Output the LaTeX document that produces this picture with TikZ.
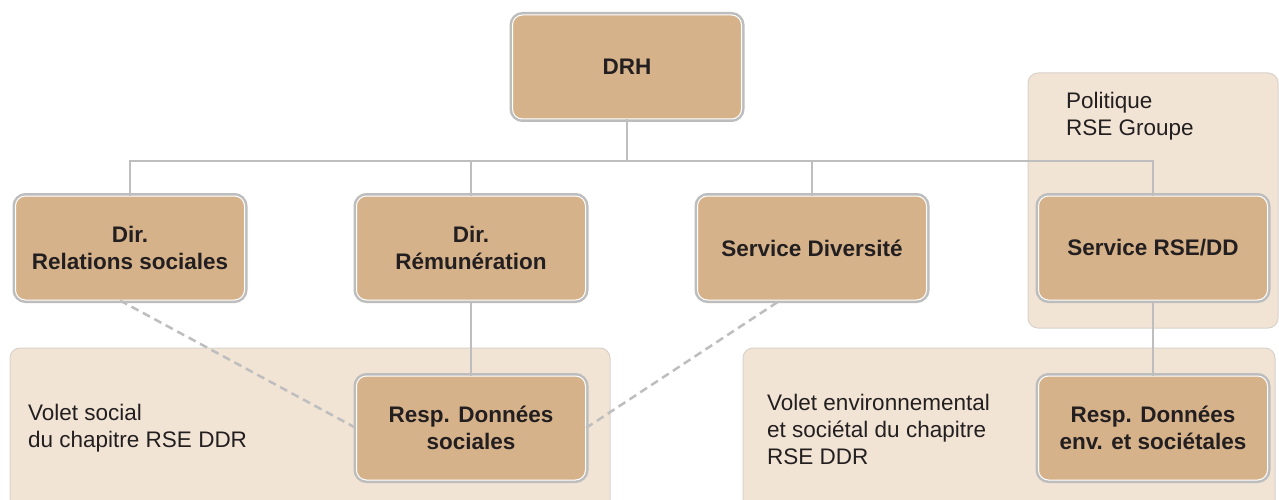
\documentclass[tikz,border=0pt]{standalone}
\usepackage{fontspec}
\setmainfont{Liberation Sans}
\definecolor{tan}{HTML}{D6B28A}
\definecolor{panelfill}{HTML}{F2E4D5}
\definecolor{panelline}{HTML}{D9D2CB}
\definecolor{boxgray}{HTML}{BDBDBD}
\definecolor{linegray}{HTML}{BEBEBE}
\definecolor{ink}{HTML}{231F20}
\tikzset{
  orgbox/.style={rectangle, rounded corners=10, minimum width=229, minimum height=104,
    fill=tan, draw=white, line width=1, preaction={draw=boxgray, line width=6},
    align=center, text=ink, inner sep=0,
    font=\bfseries\fontsize{22.5}{26.5}\selectfont},
  panel/.style={fill=panelfill, draw=panelline, line width=1, rounded corners=10},
  note/.style={anchor=west, align=left, inner sep=0, text=ink,
    font=\fontsize{22.5}{27}\selectfont},
  conn/.style={draw=linegray, line width=2.5},
  dashconn/.style={draw=linegray, line width=2.5, dash pattern=on 8 off 5}
}
\begin{document}
\begin{tikzpicture}[x=1pt,y=-1pt]
\clip (0,0) rectangle (1279,500);
\fill[white] (0,0) rectangle (1279,500);
% panels
\draw[panel] (1028,73) rectangle (1278,328);
\draw[panel] (10,348) rectangle (610,530);
\draw[panel] (743,348) rectangle (1275,530);
% texts in panels
\node[note] (pol) at (1066,116) {Politique\\RSE Groupe};
\node[note] (vsoc) at (28,428) {Volet social\\du chapitre RSE DDR};
\node[note] (venv) at (767,429) {Volet environnemental\\et sociétal du chapitre\\RSE DDR};
% boxes
\node[orgbox] (drh) at (627,67) {DRH};
\node[orgbox] (rel) at (130,248) {Dir.\\Relations sociales};
\node[orgbox] (rem) at (471,248) {Dir.\\Rémunération};
\node[orgbox] (div) at (812,248) {Service Diversité};
\node[orgbox] (rse) at (1153,248) {Service RSE/DD};
\node[orgbox] (rds) at (471,428) {Resp. Données\\sociales};
\node[orgbox] (rde) at (1153,428) {Resp. Données\\env. et sociétales};
% connectors
\coordinate (bus) at (627,161);
\draw[conn] (drh.south) -- (bus);
\draw[conn] (rel.north) -- (rel.north |- bus) -- (rse.north |- bus) -- (rse.north);
\draw[conn] (rem.north) -- (rem.north |- bus);
\draw[conn] (div.north) -- (div.north |- bus);
\draw[conn] (rem.south) -- (rds.north);
\draw[conn] (rse.south) -- (rde.north);
\draw[dashconn] ([xshift=-10]rel.south) -- (rds.west);
\draw[dashconn] (rds.east) -- ([xshift=-32]div.south);
\end{tikzpicture}
\end{document}
